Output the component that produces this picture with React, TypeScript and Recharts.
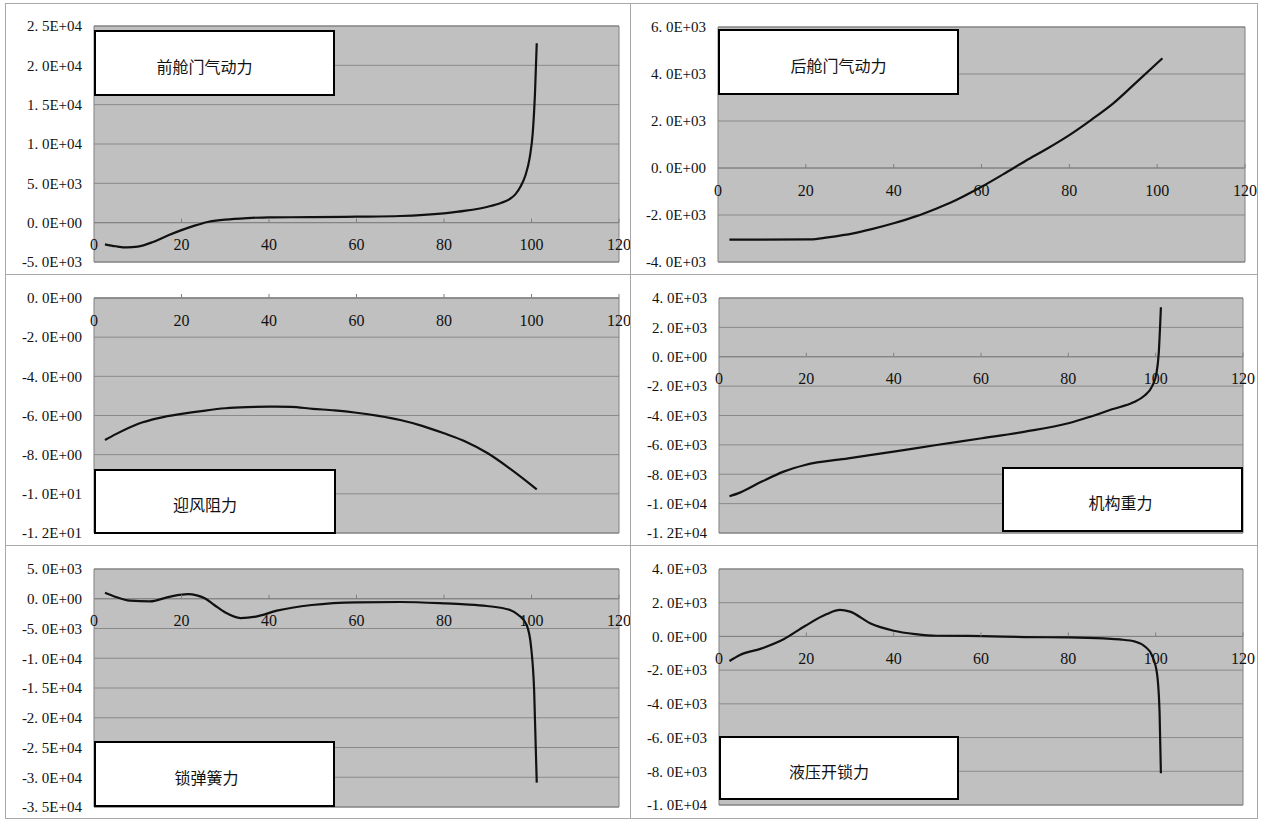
import {
  CartesianGrid,
  Line,
  LineChart,
  ReferenceArea,
  ReferenceDot,
  ReferenceLine,
  XAxis,
  YAxis,
} from "recharts";

// shared x axis (stroke / opening position)
const xTicks = [0, 20, 40, 60, 80, 100, 120];

// 前舱门气动力
const frontDoorX = [2.5, 5, 7.5, 10, 13.5, 17, 20, 23, 26, 30, 35, 40, 50, 60, 70, 80, 85, 90, 93, 95, 96.3, 97.5, 98.6, 99.6, 100.3, 100.8, 101.2];
const frontDoorF = [-2750, -3000, -3150, -3050, -2450, -1600, -950, -380, 80, 380, 580, 680, 700, 760, 850, 1190, 1520, 2030, 2500, 3000, 3600, 4600, 6000, 8300, 11500, 16500, 22800];
const frontDoorTicks = [-5000, 0, 5000, 10000, 15000, 20000, 25000];

// 后舱门气动力
const rearDoorX = [2.6, 10, 21, 25, 30.8, 35, 40, 45, 49.8, 52.9, 60, 65, 70, 75, 80, 85, 90, 95, 101.2];
const rearDoorF = [-3050, -3050, -3040, -2950, -2780, -2600, -2350, -2060, -1720, -1480, -800, -260, 300, 830, 1400, 2050, 2750, 3600, 4670];
const rearDoorTicks = [-4000, -2000, 0, 2000, 4000, 6000];

// 迎风阻力
const dragX = [2.5, 5, 10, 15, 20, 25, 30, 35, 40, 45, 50, 55, 60, 65, 70, 75, 80, 85, 90, 95, 101.2];
const dragF = [-7.25, -6.95, -6.43, -6.12, -5.92, -5.76, -5.63, -5.57, -5.55, -5.56, -5.66, -5.74, -5.86, -6.02, -6.23, -6.53, -6.91, -7.34, -7.93, -8.7, -9.77];
const dragTicks = [-12, -10, -8, -6, -4, -2, 0];

// 机构重力
const gravityX = [2.4, 4.8, 9.8, 14.8, 19.7, 29.6, 40, 49.8, 60.2, 70.1, 80, 85, 90, 94.9, 97.4, 99.2, 100.2, 100.7, 101.2];
const gravityF = [-9500, -9250, -8500, -7820, -7370, -6920, -6460, -6010, -5550, -5100, -4530, -4080, -3580, -3100, -2650, -2000, -1100, 230, 3370];
const gravityTicks = [-12000, -10000, -8000, -6000, -4000, -2000, 0, 2000, 4000];

// 锁弹簧力
const springX = [2.5, 4.8, 8.2, 12.8, 16.7, 19.5, 21.5, 23.5, 25.5, 27.5, 30, 33.5, 37, 41.8, 49.8, 60, 70, 80, 84.8, 89.8, 95.1, 97, 98.9, 99.9, 100.6, 101.2];
const springF = [1000, 350, -330, -440, 240, 640, 780, 560, 0, -1050, -2300, -3250, -3000, -2000, -1050, -600, -550, -770, -940, -1220, -1890, -2730, -4410, -8060, -15300, -30900];
const springTicks = [-35000, -30000, -25000, -20000, -15000, -10000, -5000, 0, 5000];

// 液压开锁力
const hydraulicX = [2.4, 4.8, 9.8, 14.8, 19.7, 24.7, 27.7, 30, 34.6, 40, 45, 49.8, 60.2, 70, 80, 88, 91.8, 95.3, 97.6, 99.1, 100.3, 100.9, 101.2];
const hydraulicF = [-1460, -1100, -710, -170, 620, 1330, 1570, 1470, 780, 340, 140, 40, 20, -40, -60, -120, -180, -310, -610, -1100, -2190, -4560, -8120];
const hydraulicTicks = [-10000, -8000, -6000, -4000, -2000, 0, 2000, 4000];

type Rect = [number, number, number, number];

interface PanelDef {
  title: string;
  xs: number[];
  ys: number[];
  ticks: number[];
  cell: Rect; // x, y, w, h (page px)
  plot: Rect; // left, top, right, bottom
  box: Rect; // left, top, right, bottom
  shift: number;
}

const panels: PanelDef[] = [
  { title: "前舱门气动力", xs: frontDoorX, ys: frontDoorF, ticks: frontDoorTicks, cell: [6, 4, 640, 270], plot: [94, 26, 619, 262], box: [94, 30, 335, 96], shift: -10 },
  { title: "后舱门气动力", xs: rearDoorX, ys: rearDoorF, ticks: rearDoorTicks, cell: [631, 4, 626, 270], plot: [718, 27, 1245, 262], box: [718, 29, 959, 95], shift: 0 },
  { title: "迎风阻力", xs: dragX, ys: dragF, ticks: dragTicks, cell: [6, 275, 640, 270], plot: [94, 298, 619, 533], box: [94, 469, 336, 534], shift: -10 },
  { title: "机构重力", xs: gravityX, ys: gravityF, ticks: gravityTicks, cell: [631, 275, 626, 270], plot: [719, 298, 1243, 533], box: [1002, 467, 1243, 532], shift: -2 },
  { title: "锁弹簧力", xs: springX, ys: springF, ticks: springTicks, cell: [6, 546, 640, 272], plot: [94, 569, 619, 807], box: [94, 741, 335, 807], shift: -8 },
  { title: "液压开锁力", xs: hydraulicX, ys: hydraulicF, ticks: hydraulicTicks, cell: [631, 546, 626, 272], plot: [719, 569, 1243, 805], box: [719, 736, 959, 800], shift: -10 },
];

const serif = "'Liberation Serif', 'DejaVu Serif', 'Times New Roman', serif";

function sci(v: number) {
  const [m, e] = v.toExponential(1).split("e");
  const exp = Number(e);
  return `${m.replace(".", ". ")}E${exp < 0 ? "-" : "+"}${String(Math.abs(exp)).padStart(2, "0")}`;
}

function XTick(props: any) {
  const { cx, cy, value } = props;
  return (
    <g>
      {value > 0 && <line x1={cx} x2={cx} y1={cy - 4} y2={cy} stroke="#808080" />}
      <text x={cx} y={cy + 22} dy="0.35em" textAnchor="middle" fill="#111" style={{ fontFamily: serif, fontSize: 16 }}>
        {value}
      </text>
    </g>
  );
}

function Panel({ p }: { p: PanelDef }) {
  const [cx, cy, cw, ch] = p.cell;
  const [pl, pt, pr, pb] = p.plot;
  const [bl, bt, br, bb] = p.box;
  const axisW = 80;
  const yMin = p.ticks[0];
  const yMax = p.ticks[p.ticks.length - 1];
  const data = p.xs.map((x, i) => ({ x, y: p.ys[i] }));
  const margin = { left: pl - cx - axisW, top: pt - cy, right: cx + cw - pr, bottom: cy + ch - pb };

  return (
    <div style={{ position: "absolute", left: cx, top: cy, width: cw, height: ch }}>
      <LineChart width={cw} height={ch} data={data} margin={margin}>
        <CartesianGrid vertical={false} stroke="#8a8a8a" fill="#c0c0c0" fillOpacity={1} />
        <XAxis type="number" dataKey="x" domain={[0, 120]} ticks={xTicks} hide />
        <YAxis
          type="number"
          domain={[yMin, yMax]}
          ticks={p.ticks}
          interval={0}
          width={axisW}
          axisLine={false}
          tickLine={false}
          tickSize={6}
          tickMargin={6}
          tickFormatter={sci}
          tick={{ fill: "#111", fontSize: 15, style: { fontFamily: serif } }}
          allowDataOverflow
        />
        <ReferenceArea x1={0} x2={120} y1={yMin} y2={yMax} fill="none" stroke="#808080" strokeWidth={1} />
        <ReferenceLine y={0} stroke="#808080" />
        {xTicks.map((t) => (
          <ReferenceDot key={t} x={t} y={0} r={0} ifOverflow="visible" shape={(s: any) => <XTick {...s} value={t} />} />
        ))}
        <Line type="monotone" dataKey="y" stroke="#111" strokeWidth={2.2} dot={false} isAnimationActive={false} />
      </LineChart>
      <div
        style={{
          position: "absolute",
          left: bl - cx,
          top: bt - cy,
          width: br - bl,
          height: bb - bt,
          boxSizing: "border-box",
          background: "#fff",
          border: "2px solid #000",
          display: "flex",
          alignItems: "center",
          justifyContent: "center",
          paddingTop: 5,
          paddingRight: p.shift < 0 ? -p.shift * 2 : 0,
          fontFamily: "'Noto Sans CJK SC', sans-serif",
          fontSize: 16,
          color: "#111",
        }}
      >
        {p.title}
      </div>
    </div>
  );
}

const hLines = [3, 274, 545, 818];
const vLines = [5, 630, 1257];

export default function App() {
  return (
    <div style={{ position: "absolute", left: 0, top: 0, width: 1261, height: 820, background: "#fff", overflow: "hidden" }}>
      {panels.map((p) => (
        <Panel key={p.title} p={p} />
      ))}
      {hLines.map((y) => (
        <div key={`h${y}`} style={{ position: "absolute", left: 5, top: y, width: 1253, height: 1, background: "#a8a8a8" }} />
      ))}
      {vLines.map((x) => (
        <div key={`v${x}`} style={{ position: "absolute", left: x, top: 3, width: 1, height: 816, background: "#a8a8a8" }} />
      ))}
    </div>
  );
}
